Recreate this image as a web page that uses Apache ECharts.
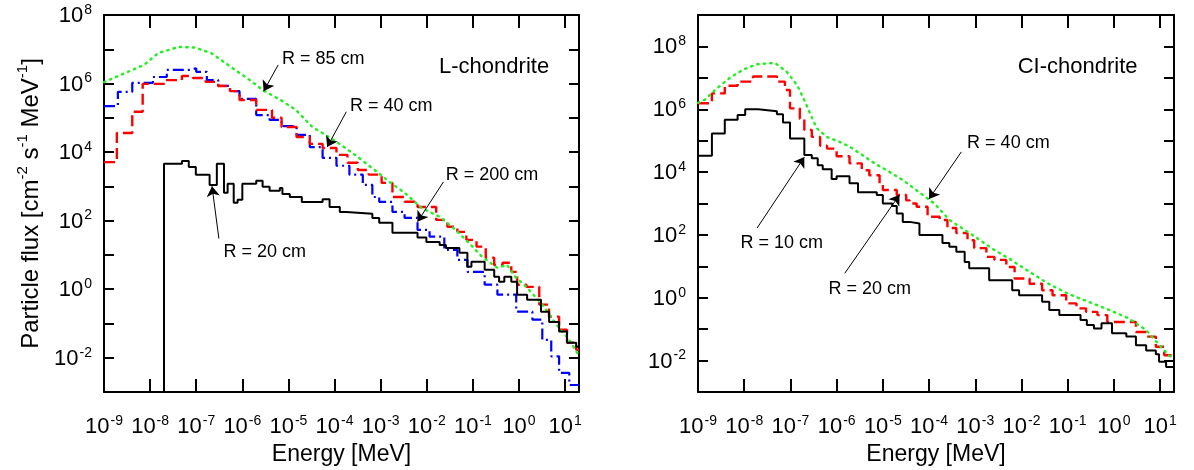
<!DOCTYPE html>
<html><head><meta charset="utf-8">
<script src="https://cdn.jsdelivr.net/npm/echarts@6/dist/echarts.min.js"></script>
<style>html,body{margin:0;padding:0;background:#fff}#c{width:1194px;height:470px}</style>
</head><body><div id="c"></div>
<script>
// ---------- Data (energies in MeV, flux in cm^-2 s^-1 MeV^-1) ----------
// Left panel: L-chondrite
const L_R20_E = [2.0e-8, 2.0e-8, 4.9e-8, 6.9e-8, 9.8e-8, 1.95e-7, 2.8e-7, 4.0e-7, 4.8e-7, 6.5e-7, 7.9e-7, 1.0e-6, 2.0e-6, 2.75e-6, 3.9e-6, 6.5e-6, 7.4e-6, 1.07e-5, 1.95e-5, 5.5e-5, 7.8e-5, 1.3e-4, 1.8e-4, 6.6e-4, 9.3e-4, 1.8e-3, 6.3e-3, 9.8e-3, 1.9e-2, 2.6e-2, 5.1e-2, 7.6e-2, 9.3e-2, 0.18, 0.29, 0.37, 0.48, 0.68, 0.91, 1.5, 3.0, 4.5, 7.4, 11, 17.4, 20];
const L_R20_F = [1e-4, 4.6e3, 5.5e3, 3.7e3, 2.2e3, 1.1e3, 4.6e3, 6.5e2, 1.2e3, 3.3e2, 4.1e2, 1.2e3, 1.45e3, 9.8e2, 7.4e2, 8.9e2, 6.0e2, 4.9e2, 3.5e2, 4.2e2, 2.5e2, 1.8e2, 1.6e2, 1.2e2, 87, 44, 32, 24, 19.5, 16, 11.5, 4.5, 6.3, 3.7, 2.3, 1.66, 2.3, 1.66, 0.69, 0.49, 0.22, 0.11, 0.058, 0.0275, 0.021, 0.021];

const L_R40_E = [1e-9, 1.9e-9, 4.1e-9, 6.9e-9, 2.2e-8, 4.9e-8, 8.5e-8, 1.6e-7, 3.0e-7, 5.4e-7, 8.7e-7, 2.0e-6, 4.4e-6, 7.1e-6, 1.5e-5, 2.9e-5, 5.5e-5, 1.1e-4, 1.9e-4, 3.2e-4, 5.5e-4, 1.05e-3, 1.8e-3, 3.3e-3, 6.3e-3, 1.6e-2, 2.8e-2, 4.6e-2, 7.2e-2, 0.12, 0.19, 0.29, 0.44, 0.68, 0.91, 1.45, 2.75, 4.47, 7.41, 11, 17.4, 20];
const L_R40_F = [5.1e3, 3.6e4, 1.5e5, 9.8e5, 1.26e6, 1.66e6, 1.45e6, 1.12e6, 8.5e5, 6.0e5, 3.3e5, 1.7e5, 1.0e5, 5.4e4, 2.75e4, 1.74e4, 1.32e4, 8.3e3, 4.9e3, 3.0e3, 2.2e3, 1.26e3, 4.9e2, 3.55e2, 2.5e2, 1.05e2, 66, 47, 27.5, 17.4, 8.3, 5.1, 5.9, 3.2, 1.35, 1.17, 0.355, 0.158, 0.066, 0.0275, 0.017, 0.017];

const L_R200_E = [1e-9, 2.0e-9, 4.1e-9, 1.15e-8, 2.3e-8, 7.2e-8, 1.0e-7, 1.7e-7, 3.0e-7, 5.4e-7, 8.7e-7, 2.0e-6, 3.9e-6, 7.1e-6, 1.5e-5, 2.9e-5, 5.5e-5, 1.1e-4, 2.1e-4, 4.1e-4, 6.6e-4, 9.3e-4, 1.8e-3, 3.3e-3, 6.3e-3, 1.15e-2, 2.4e-2, 4.6e-2, 7.6e-2, 0.18, 0.34, 0.87, 1.95, 3.2, 5.0, 7.4, 12.3, 20];
const L_R200_F = [2.2e5, 5.75e5, 1.05e6, 1.55e6, 2.5e6, 2.8e6, 2.2e6, 1.26e6, 8.5e5, 6.0e5, 3.55e5, 1.2e5, 8.7e4, 5.75e4, 3.2e4, 1.4e4, 6.8e3, 4.0e3, 2.2e3, 1.1e3, 4.9e2, 3.55e2, 1.8e2, 1.2e2, 54, 34, 14, 7.2, 3.2, 1.35, 0.69, 0.22, 0.13, 0.033, 0.011, 0.0036, 0.0016, 0.0016];

const L_R85_E = [1e-9, 2.8e-9, 7.4e-9, 1.5e-8, 4.2e-8, 9.3e-8, 2.1e-7, 6.2e-7, 1.45e-6, 2.75e-6, 6.8e-6, 1.45e-5, 3.3e-5, 8.1e-5, 1.4e-4, 3.2e-4, 7.4e-4, 1.55e-3, 3.3e-3, 7.9e-3, 1.9e-2, 4.2e-2, 8.3e-2, 0.16, 0.34, 0.55, 0.83, 1.5, 3.5, 6.0, 12.3, 18.2, 20];
const L_R85_F = [1.1e6, 2.0e6, 3.5e6, 7.8e6, 1.17e7, 1.12e7, 7.8e6, 2.8e6, 1.26e6, 6.5e5, 3.3e5, 1.7e5, 5.4e4, 2.6e4, 1.6e4, 7.2e3, 3.0e3, 1.35e3, 6.5e2, 2.3e2, 1.3e2, 54, 22, 8.7, 4.2, 5.1, 2.3, 1.1, 0.31, 0.105, 0.033, 0.014, 0.0126];

// Right panel: CI-chondrite
const C_R10_E = [1e-9, 2.0e-9, 3.8e-9, 7.2e-9, 1.05e-8, 2.0e-8, 5.1e-8, 6.9e-8, 9.8e-8, 2.0e-7, 2.9e-7, 3.9e-7, 5.0e-7, 7.8e-7, 1.0e-6, 1.9e-6, 2.9e-6, 7.4e-6, 1.0e-5, 1.6e-5, 2.0e-5, 2.7e-5, 3.8e-5, 6.2e-5, 1.95e-4, 2.75e-4, 3.9e-4, 5.9e-4, 7.4e-4, 2.0e-3, 6.3e-3, 8.9e-3, 2.8e-2, 4.0e-2, 6.6e-2, 0.19, 0.26, 0.37, 0.54, 0.91, 1.86, 3.0, 5.0, 8.1, 9.5, 13.5, 20];
const C_R10_F = [3.3e4, 1.7e5, 4.6e5, 6.6e5, 1.0e6, 8.7e5, 6.9e5, 3.8e5, 1.17e5, 3.5e4, 2.75e4, 1.66e4, 1.23e4, 6.0e3, 7.4e3, 4.4e3, 2.3e3, 1.86e3, 1.0e3, 8.3e2, 4.8e2, 2.6e2, 2.3e2, 1.0e2, 55, 42, 29, 13.8, 8.7, 3.6, 1.74, 1.2, 0.74, 0.41, 0.28, 0.195, 0.135, 0.105, 0.155, 0.074, 0.058, 0.031, 0.021, 0.016, 0.0091, 0.0063, 0.0063];

const C_R20_E = [1e-9, 2.0e-9, 3.8e-9, 7.2e-9, 1.55e-8, 5.1e-8, 7.6e-8, 9.8e-8, 1.6e-7, 2.0e-7, 2.9e-7, 4.4e-7, 6.2e-7, 1.0e-6, 1.9e-6, 3.5e-6, 5.1e-6, 8.5e-6, 1.0e-5, 2.0e-5, 3.2e-5, 3.8e-5, 5.4e-5, 9.3e-5, 1.7e-4, 2.5e-4, 3.9e-4, 6.8e-4, 9.5e-4, 1.74e-3, 2.6e-3, 4.7e-3, 7.1e-3, 1.5e-2, 2.8e-2, 4.7e-2, 9.3e-2, 0.155, 0.25, 0.44, 0.72, 3.0, 5.0, 8.1, 12.3, 20];
const C_R20_F = [1.55e6, 3.2e6, 5.6e6, 7.6e6, 1.1e7, 7.6e6, 4.1e6, 1.07e6, 5.0e5, 2.2e5, 1.32e5, 6.9e4, 5.6e4, 3.2e4, 1.9e4, 1.15e4, 7.9e3, 4.4e3, 2.7e3, 1.86e3, 1.26e3, 1.0e3, 7.9e2, 3.8e2, 3.0e2, 1.66e2, 1.15e2, 68, 38, 20, 16, 9.5, 4.1, 2.8, 1.74, 1.2, 0.66, 0.46, 0.355, 0.28, 0.17, 0.081, 0.058, 0.0275, 0.0148, 0.0148];

const C_R40_E = [1e-9, 1.4e-9, 2.6e-9, 4.9e-9, 9.3e-9, 1.86e-8, 4.6e-8, 8.3e-8, 1.4e-7, 2.0e-7, 2.75e-7, 3.7e-7, 6.2e-7, 1.17e-6, 1.9e-6, 3.6e-6, 6.6e-6, 1.2e-5, 2.7e-5, 6.6e-5, 1.3e-4, 2.75e-4, 8.7e-4, 2.6e-3, 6.0e-3, 1.5e-2, 4.0e-2, 0.107, 0.30, 0.79, 2.1, 5.0, 9.5, 15.5, 20];
const C_R40_F = [1.6e6, 2.0e6, 4.7e6, 1.0e7, 1.8e7, 2.7e7, 3.0e7, 1.55e7, 5.9e6, 1.95e6, 6.6e5, 2.5e5, 1.3e5, 9.1e4, 6.5e4, 3.5e4, 1.9e4, 1.15e4, 5.6e3, 2.1e3, 1.0e3, 3.0e2, 1.0e2, 33, 16, 6.6, 2.7, 1.3, 0.72, 0.41, 0.22, 0.093, 0.032, 0.0148, 0.011];

// Tick labels (exponents of 10)
const X_TICK_EXP = [-9, -8, -7, -6, -5, -4, -3, -2, -1, 0, 1];
const Y_TICK_EXP = [-2, 0, 2, 4, 6, 8];

// Axis ranges (MeV / flux)
const X_RANGE = [1e-9, 20];
const Y_RANGE_L = [1e-3, 1e8];
const Y_RANGE_R = [1e-3, 1e9];

// Annotations (in data units)
const L_NOTES = [
  {text: 'R = 85 cm',  at: [7.1e-6, 5.2e6], tail: [6.0e-6, 3.5e6],  tip: [2.9e-6, 6.0e5]},
  {text: 'R = 40 cm',  at: [2.1e-4, 2.2e5], tail: [1.8e-4, 1.5e5],  tip: [6.9e-5, 1.4e4]},
  {text: 'R = 200 cm', at: [2.5e-2, 2.2e3], tail: [2.3e-2, 1.35e3], tip: [6.3e-3, 93]},
  {text: 'R = 20 cm',  at: [3.8e-7, 12.3],  tail: [3.1e-7, 30],     tip: [2.2e-7, 1.0e3]}
];
const L_TITLE = {text: 'L-chondrite', at: [1.8e-2, 3.0e6]};
const R_NOTES = [
  {text: 'R = 40 cm', at: [6.5e-4, 8.3e4], tail: [5.0e-4, 4.4e4], tip: [1.0e-4, 1.4e3]},
  {text: 'R = 10 cm', at: [8.1e-9, 55],    tail: [1.9e-8, 166],   tip: [2.0e-7, 3.0e4]},
  {text: 'R = 20 cm', at: [6.5e-7, 1.9],   tail: [1.5e-6, 6.0],   tip: [2.3e-5, 1.9e3]}
];
const R_TITLE = {text: 'CI-chondrite', at: [8.1e-3, 2.2e7]};

// ---------- Chart ----------
const FONT = '"Liberation Sans", Arial, Helvetica, sans-serif';
const lg = v => Math.log10(v);
const pts = (E, F) => E.map((e, i) => [lg(e), lg(F[i])]);
const pt = p => [lg(p[0]), lg(p[1])];

const rich = {
  n: {fontSize: 22, fontFamily: FONT, color: '#000', lineHeight: 24, verticalAlign: 'bottom'},
  e: {fontSize: 14, fontFamily: FONT, color: '#000', lineHeight: 14, verticalAlign: 'top', padding: [0, 0, 0, 1]}
};
const isInt = v => Math.abs(v - Math.round(v)) < 1e-6;
const xFmt = v => (isInt(v) && X_TICK_EXP.includes(Math.round(v))) ? '{n|10}{e|' + Math.round(v) + '}' : '';
const yFmt = v => (isInt(v) && Y_TICK_EXP.includes(Math.round(v))) ? '{n|10}{e|' + Math.round(v) + '}' : '';

const frameLine = {show: true, onZero: false, lineStyle: {color: '#000', width: 2}};

function xAxes(grid) {
  const base = {gridIndex: grid, type: 'value', min: lg(X_RANGE[0]), max: lg(X_RANGE[1]), interval: 1,
    axisLine: frameLine, splitLine: {show: false}};
  return [
    Object.assign({}, base, {position: 'bottom',
      axisTick: {inside: true, length: 13, lineStyle: {color: '#000', width: 2}},
      axisLabel: {formatter: xFmt, rich: rich, fontSize: 22, fontFamily: FONT, color: '#000', margin: 22, interval: 0, showMaxLabel: true},
      name: 'Energy [MeV]', nameLocation: 'middle', nameGap: 51,
      nameTextStyle: {fontSize: 23, fontFamily: FONT, color: '#000'}}),
    Object.assign({}, base, {position: 'top',
      axisTick: {inside: true, length: 13, lineStyle: {color: '#000', width: 2}},
      axisLabel: {show: false}})
  ];
}
function yAxes(grid, range, withName) {
  const base = {gridIndex: grid, type: 'value', min: lg(range[0]), max: lg(range[1]), interval: 1,
    axisLine: frameLine, splitLine: {show: false}};
  const left = Object.assign({}, base, {position: 'left',
    axisTick: {inside: true, length: 10, lineStyle: {color: '#000', width: 2}},
    axisLabel: {formatter: yFmt, rich: rich, fontSize: 22, fontFamily: FONT, color: '#000', margin: 12, showMinLabel: true, showMaxLabel: true}});
  if (withName) {
    Object.assign(left, {
      name: '{t|Particle flux [cm}{u|-2}{t| s}{u|-1}{t| MeV}{u|-1}{t|]}',
      nameLocation: 'middle', nameGap: 61, nameRotate: 90,
      nameTextStyle: {fontSize: 24, fontFamily: FONT, color: '#000', rich: {
        t: {fontSize: 24, fontFamily: FONT, color: '#000', lineHeight: 28, verticalAlign: 'bottom'},
        u: {fontSize: 15, fontFamily: FONT, color: '#000', lineHeight: 15, verticalAlign: 'top'}
      }}
    });
  }
  const right = Object.assign({}, base, {position: 'right',
    axisTick: {inside: true, length: 10, lineStyle: {color: '#000', width: 2}},
    axisLabel: {show: false}});
  return [left, right];
}

function stepSeries(xi, yi, E, F, color, type, width, z) {
  return {type: 'line', xAxisIndex: xi, yAxisIndex: yi, step: 'end', data: pts(E, F),
    symbol: 'none', showSymbol: false, clip: true, silent: true, animation: false, z: z,
    lineStyle: {color: color, width: width, type: type}};
}
function curveSeries(xi, yi, E, F, color, z) {
  return {type: 'line', xAxisIndex: xi, yAxisIndex: yi, data: pts(E, F),
    symbol: 'none', showSymbol: false, clip: true, silent: true, animation: false, z: z,
    lineStyle: {color: color, width: 2.4, type: [1.5, 5], cap: 'round'}};
}
function noteSeries(xi, yi, notes, title) {
  return {type: 'scatter', xAxisIndex: xi, yAxisIndex: yi, data: [], silent: true, animation: false, z: 10,
    markLine: {silent: true, animation: false, symbol: ['none', 'arrow'], symbolSize: 10, precision: 10,
      label: {show: false}, lineStyle: {color: '#000', width: 1, type: 'solid'},
      itemStyle: {color: '#000'},
      emphasis: {disabled: true},
      data: notes.map(n => [{coord: pt(n.tail)}, {coord: pt(n.tip)}])},
    markPoint: {silent: true, animation: false, symbol: 'circle', symbolSize: 1,
      itemStyle: {color: 'rgba(0,0,0,0)'},
      label: {show: true, position: 'right', distance: 0, color: '#000', fontSize: 18, fontFamily: FONT},
      data: notes.map(n => ({coord: pt(n.at), value: 0, label: {formatter: n.text}}))
        .concat([{coord: pt(title.at), value: 0, label: {formatter: title.text, fontSize: 22}}])}
  };
}

const chart = echarts.init(document.getElementById('c'), null, {renderer: 'canvas'});
chart.setOption({
  backgroundColor: '#fff',
  animation: false,
  grid: [
    {left: 104, top: 15, width: 475, height: 377, containLabel: false, outerBoundsMode: 'none'},
    {left: 698, top: 15, width: 476, height: 377, containLabel: false, outerBoundsMode: 'none'}
  ],
  xAxis: xAxes(0).concat(xAxes(1)),
  yAxis: yAxes(0, Y_RANGE_L, true).concat(yAxes(1, Y_RANGE_R, false)),
  series: [
    stepSeries(0, 0, L_R200_E, L_R200_F, '#0000ff', [11, 4, 2, 4], 2.2, 2),
    stepSeries(0, 0, L_R40_E, L_R40_F, '#ff0000', [11, 5], 2.4, 3),
    curveSeries(0, 0, L_R85_E, L_R85_F, '#22ee22', 4),
    stepSeries(0, 0, L_R20_E, L_R20_F, '#000000', 'solid', 2, 5),
    noteSeries(0, 0, L_NOTES, L_TITLE),
    stepSeries(2, 2, C_R20_E, C_R20_F, '#ff0000', [11, 5], 2.4, 3),
    curveSeries(2, 2, C_R40_E, C_R40_F, '#22ee22', 4),
    stepSeries(2, 2, C_R10_E, C_R10_F, '#000000', 'solid', 2, 5),
    noteSeries(2, 2, R_NOTES, R_TITLE)
  ]
});
</script>
</body></html>
